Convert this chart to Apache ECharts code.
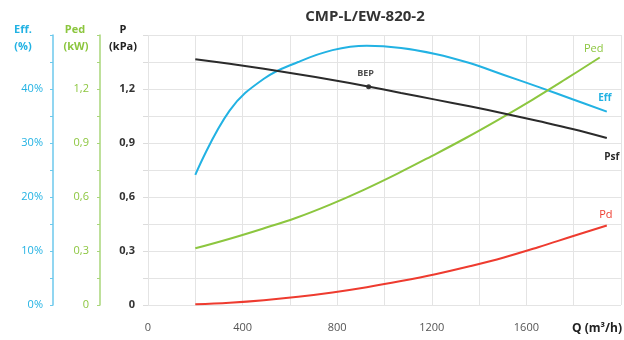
<!DOCTYPE html>
<html>
<head>
<meta charset="utf-8">
<script src="https://cdn.jsdelivr.net/npm/echarts@6/dist/echarts.min.js"></script>
<style>html,body{margin:0;padding:0;background:#fff}#c{width:624px;height:340px}</style>
</head>
<body>
<div id="c"></div>
<script>
// ---- data ----
var chartTitle = 'CMP-L/EW-820-2';
var xTicks = [0, 400, 800, 1200, 1600];
var effQ = [200, 345, 490, 635, 780, 925, 1070, 1215, 1360, 1505, 1650, 1795, 1940];
var effVal = [24.1, 36.0, 41.9, 45.0, 47.2, 48.0, 47.6, 46.5, 44.8, 42.6, 40.4, 38.1, 35.8];
var pedQ = [200, 342.5, 485, 627.5, 770, 912.5, 1055, 1197.5, 1340, 1482.5, 1625, 1767.5, 1910];
var pedVal = [0.315, 0.367, 0.424, 0.485, 0.558, 0.64, 0.73, 0.826, 0.925, 1.03, 1.14, 1.256, 1.375];
var psfQ = [200, 345, 490, 635, 780, 925, 1070, 1215, 1360, 1505, 1650, 1795, 1940];
var psfVal = [1.365, 1.34, 1.312, 1.282, 1.25, 1.215, 1.178, 1.141, 1.104, 1.064, 1.022, 0.978, 0.928];
var pdQ = [200, 345, 490, 635, 780, 925, 1070, 1215, 1360, 1505, 1650, 1795, 1940];
var pdVal = [0.004, 0.013, 0.027, 0.046, 0.07, 0.099, 0.133, 0.171, 0.215, 0.264, 0.321, 0.382, 0.442];
var bepQ = [933];
var bepP = [1.213];
var effTicks = [0, 10, 20, 30, 40];
var kwTicks = [0, 0.3, 0.6, 0.9, 1.2];

var FONT = '"Open Sans", sans-serif';
var C_EFF = '#22b2e3', C_PED = '#8cc63f', C_PSF = '#2b2b2b', C_PD = '#ee3b2f';

function pairs(xs, ys, lbl) {
  return xs.map(function (x, i) {
    var d = { value: [x, ys[i]] };
    if (i === xs.length - 1 && lbl) d.label = lbl;
    return d;
  });
}
function isTick(v, list) {
  for (var i = 0; i < list.length; i++) if (Math.abs(list[i] - v) < 1e-6) return true;
  return false;
}
function comma(v) { return String(Math.round(v * 10) / 10).replace('.', ','); }

var chart = echarts.init(document.getElementById('c'), null, { renderer: 'canvas' });
var option = {
  animation: false,
  textStyle: { fontFamily: FONT },
  grid: { left: 148, right: 0, top: 35, bottom: 35, containLabel: false },
  xAxis: {
    type: 'value', min: 0, max: 2000, interval: 200,
    axisLine: { show: false }, axisTick: { show: false },
    splitLine: { show: true, lineStyle: { color: '#e4e4e4', width: 1 } },
    axisLabel: {
      margin: 17, color: '#555', fontSize: 11, fontFamily: FONT,
      formatter: function (v) { return isTick(v, xTicks) ? String(v) : ''; }
    }
  },
  yAxis: [
    { // P kPa
      type: 'value', min: 0, max: 1.5, interval: 0.15, position: 'left', offset: 0,
      axisLine: { show: false },
      axisTick: { show: true, length: 5, lineStyle: { color: '#dcdcdc' } },
      splitLine: { show: true, lineStyle: { color: '#e4e4e4', width: 1 } },
      axisLabel: {
        margin: 13, color: '#333', fontSize: 11, fontWeight: 'bold', fontFamily: FONT,
        formatter: function (v) { return isTick(v, kwTicks) ? comma(v) : ''; }
      }
    },
    { // Ped kW
      type: 'value', min: 0, max: 1.5, interval: 0.15, position: 'left', offset: 48,
      axisLine: { show: true, lineStyle: { color: '#a9d67a', width: 1.5 } },
      axisTick: { show: true, length: 3, lineStyle: { color: '#a9d67a' } },
      splitLine: { show: false },
      axisLabel: {
        margin: 11, color: C_PED, fontSize: 11, fontFamily: FONT,
        formatter: function (v) { return isTick(v, kwTicks) ? comma(v) : ''; }
      }
    },
    { // Eff %
      type: 'value', min: 0, max: 50, interval: 5, position: 'left', offset: 95,
      axisLine: { show: true, lineStyle: { color: '#6cc9ec', width: 1.5 } },
      axisTick: { show: true, length: 3, lineStyle: { color: '#6cc9ec' } },
      splitLine: { show: false },
      axisLabel: {
        margin: 10, color: C_EFF, fontSize: 11, fontFamily: FONT,
        formatter: function (v) { return isTick(v, effTicks) ? v + '%' : ''; }
      }
    }
  ],
  series: [
    {
      name: 'Eff', type: 'line', yAxisIndex: 2, smooth: 0.4, showSymbol: true, symbolSize: 0,
      lineStyle: { color: C_EFF, width: 2 }, itemStyle: { color: C_EFF },
      data: pairs(effQ, effVal, { show: true, position: 'inside', offset: [-2, -14], formatter: 'Eff', color: C_EFF, fontWeight: 'bold', fontSize: 10, fontFamily: FONT })
    },
    {
      name: 'Ped', type: 'line', yAxisIndex: 1, smooth: 0.4, showSymbol: true, symbolSize: 0,
      lineStyle: { color: C_PED, width: 2 }, itemStyle: { color: C_PED },
      data: pairs(pedQ, pedVal, { show: true, position: 'inside', offset: [-6, -9], formatter: 'Ped', color: C_PED, fontSize: 11, fontFamily: FONT })
    },
    {
      name: 'Psf', type: 'line', yAxisIndex: 0, smooth: 0.4, showSymbol: true, symbolSize: 0,
      lineStyle: { color: C_PSF, width: 2 }, itemStyle: { color: C_PSF },
      data: pairs(psfQ, psfVal, { show: true, position: 'inside', offset: [5, 19], formatter: 'Psf', color: C_PSF, fontWeight: 'bold', fontSize: 10, fontFamily: FONT })
    },
    {
      name: 'Pd', type: 'line', yAxisIndex: 0, smooth: 0.4, showSymbol: true, symbolSize: 0,
      lineStyle: { color: C_PD, width: 2 }, itemStyle: { color: C_PD },
      data: pairs(pdQ, pdVal, { show: true, position: 'inside', offset: [-1, -11], formatter: 'Pd', color: C_PD, fontSize: 11, fontFamily: FONT })
    },
    {
      name: 'BEP', type: 'scatter', yAxisIndex: 0, symbolSize: 5,
      itemStyle: { color: '#111' },
      label: { show: true, position: 'top', distance: 6, offset: [-3, 0], formatter: 'BEP', color: '#222', fontWeight: 'bold', fontSize: 9, fontFamily: FONT },
      data: bepQ.map(function (q, i) { return [q, bepP[i]]; })
    }
  ],
  graphic: [
    { type: 'text', x: 365, y: 17, style: { text: chartTitle, fill: '#333', font: 'bold 15px ' + FONT, textAlign: 'center', textVerticalAlign: 'middle' } },
    { type: 'text', x: 23, y: 30, style: { text: 'Eff.', fill: C_EFF, font: 'bold 11px ' + FONT, textAlign: 'center', textVerticalAlign: 'middle' } },
    { type: 'text', x: 23, y: 47, style: { text: '(%)', fill: C_EFF, font: 'bold 11px ' + FONT, textAlign: 'center', textVerticalAlign: 'middle' } },
    { type: 'text', x: 75, y: 30, style: { text: 'Ped', fill: C_PED, font: 'bold 11px ' + FONT, textAlign: 'center', textVerticalAlign: 'middle' } },
    { type: 'text', x: 76, y: 47, style: { text: '(kW)', fill: C_PED, font: 'bold 11px ' + FONT, textAlign: 'center', textVerticalAlign: 'middle' } },
    { type: 'text', x: 123, y: 30, style: { text: 'P', fill: '#222', font: 'bold 11px ' + FONT, textAlign: 'center', textVerticalAlign: 'middle' } },
    { type: 'text', x: 123, y: 47, style: { text: '(kPa)', fill: '#222', font: 'bold 11px ' + FONT, textAlign: 'center', textVerticalAlign: 'middle' } },
    { type: 'text', x: 622, y: 329, style: { text: 'Q (m³/h)', fill: '#222', font: 'bold 12px ' + FONT, textAlign: 'right', textVerticalAlign: 'middle' } }
  ]
};
chart.setOption(option);
</script>
</body>
</html>
